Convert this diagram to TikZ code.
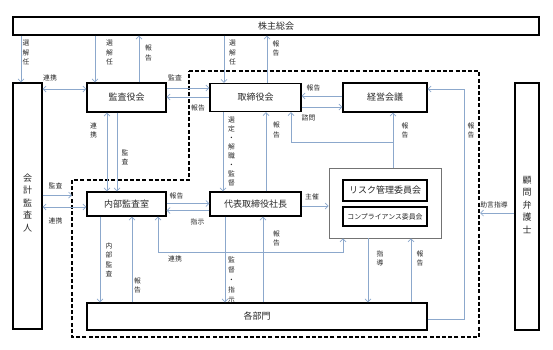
\documentclass[tikz,border=0pt]{standalone}
\usepackage{fontspec}
\newfontfamily\jp{Noto Sans CJK JP}
\usetikzlibrary{arrows.meta}
\definecolor{ln}{RGB}{140,168,204}
\definecolor{tx}{RGB}{40,40,40}
\begin{document}
\begin{tikzpicture}[x=1pt,y=-1pt,
  bx/.style={draw=black,line width=1.4pt,fill=white,inner sep=0pt,text=tx,font=\jp\fontsize{9}{10}\selectfont},
  ar/.style={draw=ln,line width=0.7pt,-{Straight Barb[length=3pt,width=6pt]}},
  dar/.style={draw=ln,line width=0.7pt,{Straight Barb[length=3pt,width=6pt]}-{Straight Barb[length=3pt,width=6pt]}},
  lb/.style={inner sep=0pt,align=center,text=tx,font=\jp\fontsize{6.8}{9.5}\selectfont},
  vb/.style={inner sep=0pt,align=center,text=tx,font=\jp\fontsize{9}{12.5}\selectfont},
]
\useasboundingbox (0,0) rectangle (553,349);
% dashed region
\draw[line width=1.3pt,dash pattern=on 4pt off 2.2pt] (189,71) -- (479,71) -- (479,337) -- (72,337) -- (72,180) -- (189,180) -- cycle;

% boxes
\node[bx,minimum width=526pt,minimum height=18pt] (kabu) at (276,26) {株主総会};
\node[bx,minimum width=29pt,minimum height=246pt] (kaikei) at (27.5,206) {};
\node[vb] (kaikeit) at (27.5,203) {会\\計\\監\\査\\人};
\node[bx,minimum width=79pt,minimum height=29pt] (kansa) at (126.5,97.5) {監査役会};
\node[bx,minimum width=91pt,minimum height=28pt] (tori) at (255.5,97.5) {取締役会};
\node[bx,minimum width=84pt,minimum height=29pt] (keiei) at (385,97.5) {経営会議};
\node[bx,minimum width=24pt,minimum height=247pt] (komon) at (527,206.5) {};
\node[vb] (komont) at (527,205) {顧\\問\\弁\\護\\士};
\node[bx,minimum width=79pt,minimum height=24pt] (naibu) at (126.5,204) {内部監査室};
\node[bx,minimum width=91pt,minimum height=24pt] (daihyo) at (255.5,204) {代表取締役社長};
\node[draw=black!55,line width=0.6pt,fill=white,minimum width=112pt,minimum height=70pt,inner sep=0pt] (iin) at (385,203) {};
\node[bx,minimum width=84pt,minimum height=21pt] (risk) at (385,190.5) {リスク管理委員会};
\node[bx,minimum width=84pt,minimum height=19pt,font=\jp\fontsize{6.9}{8}\selectfont] (comp) at (385,216.5) {コンプライアンス委員会};
\node[bx,minimum width=340pt,minimum height=27pt] (kakubu) at (257,316.5) {\hspace*{0pt}各部門};

% shareholders
\draw[ar] (kabu.south -| 21,0) -- (kaikei.north -| 21,0);
\draw[ar] (kabu.south -| 95,0) -- (kansa.north -| 95,0);
\draw[ar] (kansa.north -| 139,0) -- (kabu.south -| 139,0);
\draw[ar] (kabu.south -| 224,0) -- (tori.north -| 224,0);
\draw[ar] (tori.north -| 267,0) -- (kabu.south -| 267,0);

% top row horizontal
\draw[dar] (kaikei.east |- 0,89) -- (kansa.west |- 0,89);
\draw[ar] (kansa.east |- 0,88) -- (tori.west |- 0,88);
\draw[ar] (tori.west |- 0,97) -- (kansa.east |- 0,97);
\draw[ar] (keiei.west |- 0,96) -- (tori.east |- 0,96);
\draw[ar] (tori.east |- 0,107) -- (keiei.west |- 0,107);

% verticals row 1 to row 2
\draw[dar] (kansa.south -| 107,0) -- (naibu.north -| 107,0);
\draw[ar] (kansa.south -| 117,0) -- (naibu.north -| 117,0);
\draw[ar] (tori.south -| 223,0) -- (daihyo.north -| 223,0);
\draw[ar] (daihyo.north -| 266,0) -- (tori.south -| 266,0);
\coordinate (br) at (393,142);
\draw[ar] (iin.north -| 393,0) -- (keiei.south -| 393,0);
\draw[ar] (br) -| (tori.south -| 291,0);

% kaikei to naibu
\coordinate (dl) at (72,195);
\draw[ar] (kaikei.east |- dl) -- (dl);
\draw[dar] (kaikei.east |- 0,207) -- (naibu.west |- 0,207);

% naibu - daihyo - iin
\draw[ar] (naibu.east |- 0,203.5) -- (daihyo.west |- 0,203.5);
\draw[ar] (daihyo.west |- 0,210.5) -- (naibu.east |- 0,210.5);
\draw[ar] (daihyo.east |- 0,206) -- (iin.west |- 0,206);
\coordinate (lk) at (343,252);
\draw[dar] (naibu.south -| 158,0) |- (lk) -- (iin.south -| 343,0);

% to kakubu
\draw[ar] (naibu.south -| 100,0) -- (kakubu.north -| 100,0);
\draw[ar] (kakubu.north -| 132,0) -- (naibu.south -| 132,0);
\draw[ar] (daihyo.south -| 225,0) -- (kakubu.north -| 225,0);
\draw[ar] (kakubu.north -| 263,0) -- (daihyo.south -| 263,0);
\draw[ar] (iin.south -| 368,0) -- (kakubu.north -| 368,0);
\draw[ar] (kakubu.north -| 411,0) -- (iin.south -| 411,0);
\coordinate (rc) at (464,89);
\draw[ar] (kakubu.east |- 0,319) -| (rc) -- (keiei.east |- rc);

% komon
\coordinate (dr) at (480,213);
\draw[ar] (komon.west |- dr) -- (dr);

% labels
\node[lb] (l1) at (26,52.5) {選\\解\\任};
\node[lb] (l2) at (109.5,52.5) {選\\解\\任};
\node[lb] (l3) at (148.5,53) {報\\告};
\node[lb] (l4) at (232.5,52.5) {選\\解\\任};
\node[lb] (l5) at (276,48.5) {報\\告};
\node[lb] (l6) at (50,77.5) {連携};
\node[lb] (l7) at (175,77.5) {監査};
\node[lb] (l8) at (198,107.5) {報告};
\node[lb] (l9) at (313.5,87.5) {報告};
\node[lb] (l10) at (308.5,117.5) {諮問};
\node[lb] (l11) at (93.5,130.5) {連\\携};
\node[lb] (l12) at (125,157.5) {監\\査};
\node[lb,font=\jp\fontsize{6.8}{9}\selectfont] (l13) at (231.5,151) {選\\定\\・\\解\\職\\・\\監\\督};
\node[lb] (l14) at (276.5,130) {報\\告};
\node[lb] (l15) at (405,130.5) {報\\告};
\node[lb] (l16) at (471,130.5) {報\\告};
\node[lb] (l17) at (55.5,186) {監査};
\node[lb] (l18) at (55.5,221) {連携};
\node[lb] (l19) at (176.5,195.5) {報告};
\node[lb] (l20) at (197.5,222) {指示};
\node[lb] (l21) at (312,196.5) {主催};
\node[lb] (l22) at (494,204.5) {助言指導};
\node[lb] (l23) at (175,259) {連携};
\node[lb] (l24) at (109,260) {内\\部\\監\\査};
\node[lb] (l25) at (137.5,285.5) {報\\告};
\node[lb,font=\jp\fontsize{6.8}{10}\selectfont] (l26) at (231.5,280) {監\\督\\・\\指\\示};
\node[lb] (l27) at (276.5,238.5) {報\\告};
\node[lb] (l28) at (380,258.5) {指\\導};
\node[lb] (l29) at (420,258.5) {報\\告};
\end{tikzpicture}
\end{document}
